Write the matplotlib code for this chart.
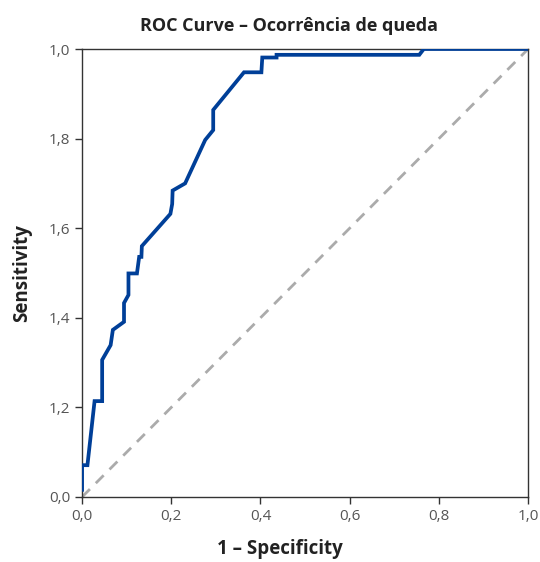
import matplotlib.pyplot as plt

# ROC curve points
fpr = [0.0, 0.0, 0.012, 0.028, 0.045, 0.045, 0.064, 0.069, 0.094, 0.094, 0.104,
       0.104, 0.123, 0.128, 0.133, 0.134, 0.198, 0.202, 0.203, 0.231, 0.276,
       0.294, 0.294, 0.363, 0.402, 0.404, 0.436, 0.436, 0.756, 0.766, 1.0]
tpr = [0.016, 0.071, 0.071, 0.214, 0.214, 0.306, 0.339, 0.373, 0.391, 0.433, 0.451,
       0.499, 0.499, 0.536, 0.536, 0.560, 0.632, 0.654, 0.684, 0.700, 0.797,
       0.819, 0.864, 0.948, 0.948, 0.981, 0.981, 0.987, 0.987, 1.0, 1.0]

tick_vals = [0.0, 0.2, 0.4, 0.6, 0.8, 1.0]
x_labels = ["0,0", "0,2", "0,4", "0,6", "0,8", "1,0"]
y_labels = ["0,0", "1,2", "1,4", "1,6", "1,8", "1,0"]  # as printed in the original

plt.rcParams['font.family'] = ['Open Sans', 'DejaVu Sans']

fig = plt.figure(figsize=(5.4, 5.62), dpi=100)
ax = fig.add_axes([0.152, 0.1157, 0.826, 0.7971])

ax.plot([0, 1], [0, 1], color='#ababab', lw=2, linestyle=(0, (4, 3)), zorder=2)
ax.plot(fpr, tpr, color='#003f98', lw=2.7, zorder=3, solid_joinstyle='miter')

ax.set_xlim(0, 1)
ax.set_ylim(0, 1)
ax.set_xticks(tick_vals)
ax.set_xticklabels(x_labels)
ax.set_yticks(tick_vals)
ax.set_yticklabels(y_labels)
ax.tick_params(direction='out', length=5, width=1, colors='#333333',
               labelsize=11, labelcolor='#555555')
for s in ax.spines.values():
    s.set_color('#333333')
    s.set_linewidth(1)

ax.set_title('ROC Curve – Ocorrência de queda', fontsize=13, fontweight='bold',
             color='#222222', pad=13, x=0.464)
# keep the x label a bit higher than the original so it is not clipped
ax.set_xlabel('1 – Specificity', fontsize=13.5, fontweight='bold', color='#222222',
              labelpad=11, x=0.444)
ax.set_ylabel('Sensitivity', fontsize=13.5, fontweight='bold', color='#222222',
              labelpad=12)

fig.savefig('out.png', dpi=100)
